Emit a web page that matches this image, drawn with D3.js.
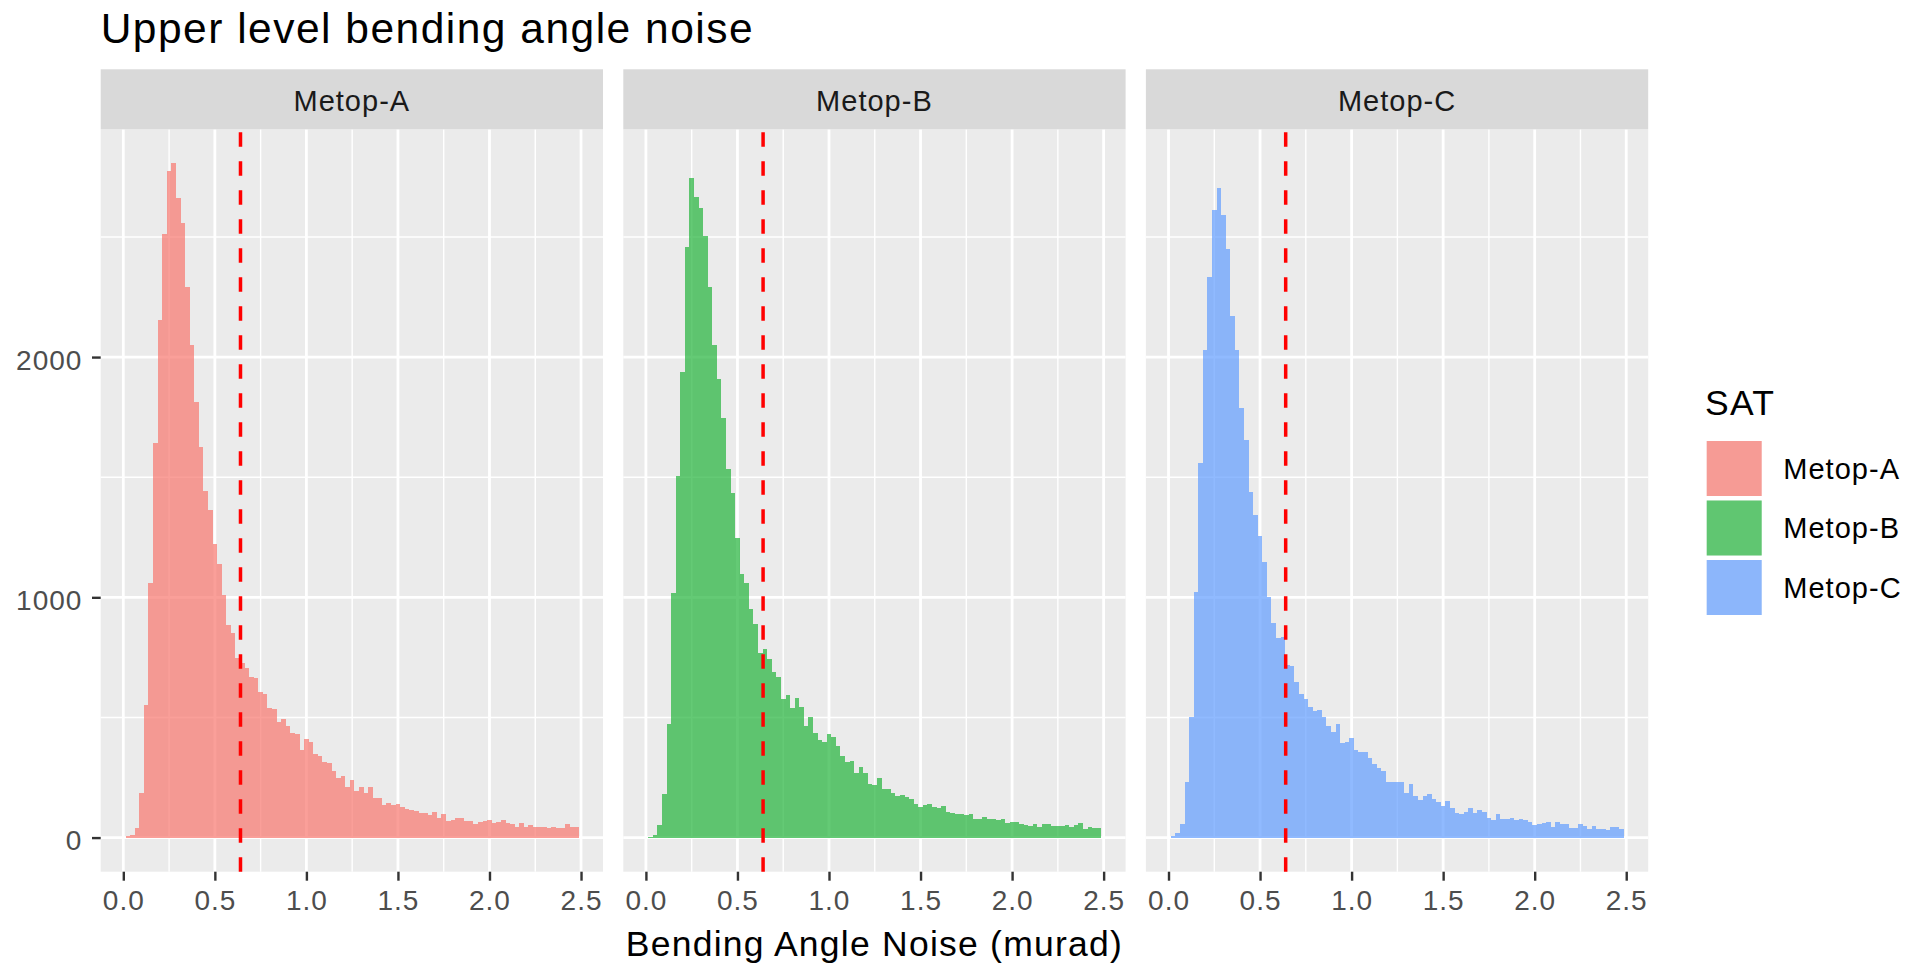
<!DOCTYPE html>
<html>
<head>
<meta charset="utf-8">
<script src="https://cdn.jsdelivr.net/npm/d3@7"></script>
<style>
  body { margin: 0; background: #ffffff; }
  text { font-family: "Liberation Sans", Arial, Helvetica, sans-serif; letter-spacing: 0.035em; }
</style>
</head>
<body>
<svg id="chart" width="1909" height="964"></svg>
<script>
// satellites and their histogram counts, one bin every 0.025 murad
var satellites = ["Metop-A", "Metop-B", "Metop-C"];
var satColors = ["#F8766D", "#22B33A", "#619CFF"];
var binWidth = 0.025;
var firstBinStart = 0.0125;

var countsA = [5, 10, 40, 187, 552, 1059, 1642, 2153, 2512, 2773,
  2806, 2660, 2560, 2292, 2052, 1811, 1624, 1441, 1364, 1223,
  1138, 1010, 885, 851, 749, 726, 705, 667, 663, 605,
  596, 541, 534, 483, 494, 466, 434, 430, 365, 409,
  399, 347, 340, 316, 312, 278, 249, 256, 212, 240,
  194, 209, 184, 210, 163, 163, 135, 142, 135, 138,
  128, 119, 113, 109, 103, 103, 94, 105, 83, 98,
  69, 73, 81, 81, 67, 67, 56, 66, 67, 74,
  60, 65, 72, 62, 56, 45, 62, 44, 53, 45,
  45, 45, 38, 45, 38, 38, 55, 44, 44];

var countsB = [3, 10, 51, 180, 473, 1020, 1507, 1939, 2458, 2745,
  2667, 2622, 2503, 2293, 2052, 1909, 1747, 1534, 1434, 1247,
  1098, 1059, 951, 890, 770, 785, 742, 691, 667, 578,
  594, 538, 580, 542, 466, 502, 434, 406, 396, 430,
  417, 381, 340, 313, 320, 270, 295, 270, 222, 219,
  247, 201, 201, 184, 173, 177, 170, 159, 138, 126,
  135, 140, 128, 122, 131, 108, 103, 98, 97, 94,
  99, 77, 78, 87, 78, 77, 73, 76, 59, 66,
  66, 56, 52, 48, 56, 45, 55, 55, 49, 49,
  49, 52, 45, 53, 62, 37, 45, 41, 38];

var countsC = [6, 17, 56, 233, 503, 1021, 1561, 2028, 2335, 2611,
  2702, 2591, 2448, 2170, 2028, 1790, 1655, 1438, 1341, 1256,
  1145, 1001, 895, 830, 834, 719, 716, 649, 598, 576,
  545, 527, 531, 503, 466, 441, 472, 392, 396, 413,
  365, 358, 358, 330, 306, 291, 278, 233, 233, 233,
  233, 187, 222, 174, 156, 173, 181, 160, 149, 131,
  152, 124, 101, 97, 105, 122, 103, 115, 105, 83,
  73, 97, 77, 77, 83, 73, 77, 73, 66, 51,
  55, 62, 66, 45, 64, 55, 55, 40, 40, 56,
  48, 34, 49, 35, 35, 31, 42, 42, 35];

var satCounts = [countsA, countsB, countsC];

// dashed threshold line
var thresholdValue = 0.64;

var xTicks = [0, 0.5, 1, 1.5, 2, 2.5];
var xMinorTicks = [0.25, 0.75, 1.25, 1.75, 2.25];
var yTicks = [0, 1000, 2000];
var yMinorTicks = [500, 1500, 2500];

var vis = d3.select("#chart"),
    PANEL_LEFT = 100.7,
    PANEL_W = 502.3,
    PANEL_GAP = 20.3,
    STRIP_TOP = 69.3,
    PLOT_TOP = 129.3,
    PLOT_BOTTOM = 871.7;

var yScale = d3.scaleLinear().domain([-142, 2948]).range([PLOT_BOTTOM, PLOT_TOP]);

// title
vis.append("text")
  .attr("x", PANEL_LEFT)
  .attr("y", 42.7)
  .attr("font-size", "42.5px")
  .attr("fill", "#000000")
  .text("Upper level bending angle noise");

satellites.forEach(function(sat, p) {
  var left = PANEL_LEFT + p * (PANEL_W + PANEL_GAP);
  var xScale = d3.scaleLinear().domain([-0.1235, 2.62]).range([left, left + PANEL_W]);
  var g = vis.append("g");

  // panel background
  g.append("rect")
    .attr("x", left).attr("y", PLOT_TOP)
    .attr("width", PANEL_W).attr("height", PLOT_BOTTOM - PLOT_TOP)
    .attr("fill", "#EBEBEB");

  // grid
  g.selectAll(".xminor").data(xMinorTicks).enter().append("line")
    .attr("x1", function(d) { return xScale(d); })
    .attr("x2", function(d) { return xScale(d); })
    .attr("y1", PLOT_TOP).attr("y2", PLOT_BOTTOM)
    .attr("stroke", "#ffffff").attr("stroke-width", 1.4);
  g.selectAll(".yminor").data(yMinorTicks).enter().append("line")
    .attr("x1", left).attr("x2", left + PANEL_W)
    .attr("y1", function(d) { return yScale(d); })
    .attr("y2", function(d) { return yScale(d); })
    .attr("stroke", "#ffffff").attr("stroke-width", 1.4);
  g.selectAll(".xmajor").data(xTicks).enter().append("line")
    .attr("x1", function(d) { return xScale(d); })
    .attr("x2", function(d) { return xScale(d); })
    .attr("y1", PLOT_TOP).attr("y2", PLOT_BOTTOM)
    .attr("stroke", "#ffffff").attr("stroke-width", 2.8);
  g.selectAll(".ymajor").data(yTicks).enter().append("line")
    .attr("x1", left).attr("x2", left + PANEL_W)
    .attr("y1", function(d) { return yScale(d); })
    .attr("y2", function(d) { return yScale(d); })
    .attr("stroke", "#ffffff").attr("stroke-width", 2.8);

  // histogram bars
  g.selectAll(".bar").data(satCounts[p]).enter().append("rect")
    .attr("x", function(d, i) { return xScale(firstBinStart + i * binWidth); })
    .attr("width", function(d, i) {
      return xScale(firstBinStart + (i + 1) * binWidth) - xScale(firstBinStart + i * binWidth);
    })
    .attr("y", function(d) { return yScale(d); })
    .attr("height", function(d) { return yScale(0) - yScale(d); })
    .attr("fill", satColors[p])
    .attr("fill-opacity", 0.7)
    .attr("shape-rendering", "crispEdges");

  // threshold line
  g.append("line")
    .attr("x1", xScale(thresholdValue)).attr("x2", xScale(thresholdValue))
    .attr("y1", PLOT_BOTTOM).attr("y2", PLOT_TOP)
    .attr("stroke", "#FF0000")
    .attr("stroke-width", 3.5)
    .attr("stroke-dasharray", "14.5,14.5");

  // strip
  g.append("rect")
    .attr("x", left).attr("y", STRIP_TOP)
    .attr("width", PANEL_W).attr("height", PLOT_TOP - STRIP_TOP)
    .attr("fill", "#D9D9D9");
  g.append("text")
    .attr("x", left + PANEL_W / 2).attr("y", 111)
    .attr("text-anchor", "middle")
    .attr("font-size", "29px")
    .attr("fill", "#1A1A1A")
    .text(sat);

  // x axis
  var xAxis = d3.axisBottom(xScale)
    .tickValues(xTicks)
    .tickFormat(d3.format(".1f"))
    .tickSize(9);
  var xg = g.append("g")
    .attr("transform", "translate(0," + PLOT_BOTTOM + ")")
    .call(xAxis);
  xg.select(".domain").remove();
  xg.selectAll("line").attr("stroke", "#333333").attr("stroke-width", 2.4);
  xg.selectAll("text")
    .attr("y", 38.5).attr("dy", null)
    .attr("font-size", "28px")
    .attr("font-family", null)
    .attr("fill", "#4D4D4D");

  // y axis on the first panel only
  if (p === 0) {
    var yAxis = d3.axisLeft(yScale)
      .tickValues(yTicks)
      .tickFormat(d3.format("d"))
      .tickSize(8.7);
    var yg = g.append("g")
      .attr("transform", "translate(" + left + ",0)")
      .call(yAxis);
    yg.select(".domain").remove();
    yg.selectAll("line").attr("stroke", "#333333").attr("stroke-width", 2.4);
    yg.selectAll("text")
      .attr("x", -18.4).attr("dy", "0.43em")
      .attr("font-size", "28px")
      .attr("font-family", null)
      .attr("fill", "#4D4D4D");
  }
});

// x axis title
var totalRight = PANEL_LEFT + 3 * PANEL_W + 2 * PANEL_GAP;
vis.append("text")
  .attr("x", (PANEL_LEFT + totalRight) / 2)
  .attr("y", 956)
  .attr("text-anchor", "middle")
  .attr("font-size", "35.5px")
  .attr("fill", "#000000")
  .text("Bending Angle Noise (murad)");

// legend
var legend = vis.append("g");
legend.append("text")
  .attr("x", 1705).attr("y", 415)
  .attr("font-size", "35.5px")
  .attr("fill", "#000000")
  .text("SAT");

var keys = legend.selectAll(".key").data(satellites).enter().append("g")
  .attr("transform", function(d, i) { return "translate(1706.7," + (441 + i * 59.5) + ")"; });
keys.append("rect")
  .attr("width", 55).attr("height", 55)
  .attr("fill", "#F2F2F2");
keys.append("rect")
  .attr("width", 55).attr("height", 55)
  .attr("fill", function(d, i) { return satColors[i]; })
  .attr("fill-opacity", 0.7);
keys.append("text")
  .attr("x", 76.6).attr("y", 37.8)
  .attr("font-size", "29px")
  .attr("fill", "#000000")
  .text(function(d) { return d; });
</script>
</body>
</html>
